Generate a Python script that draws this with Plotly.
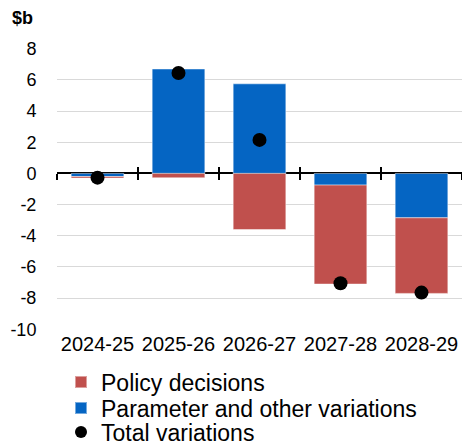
import plotly.graph_objects as go

years = ["2024-25", "2025-26", "2026-27", "2027-28", "2028-29"]
policy = [-0.1, -0.28, -3.6, -6.35, -4.85]
parameter = [-0.2, 6.7, 5.75, -0.75, -2.85]
total = [-0.27, 6.45, 2.15, -7.05, -7.65]
y_ticks = [8, 6, 4, 2, 0, -2, -4, -6, -8, -10]

ymin, ymax = -10, 8
zero_pos = (0 - ymin) / (ymax - ymin)

FONT = "Arial, Liberation Sans, sans-serif"
RED = "#C0504D"
BLUE = "#0565C3"
W, H = 462, 445

fig = go.Figure()
fig.add_trace(go.Bar(x=years, y=parameter, name="Parameter and other variations",
                     marker=dict(color=BLUE, line=dict(color="rgba(255,255,255,0.45)", width=1)),
                     legend="legend2"))
fig.add_trace(go.Bar(x=years, y=policy, name="Policy decisions",
                     marker=dict(color=RED, line=dict(color="rgba(255,255,255,0.45)", width=1)),
                     legend="legend"))
fig.add_trace(go.Scatter(x=years, y=total, name="Total variations", mode="markers",
                         marker=dict(color="black", size=14), legend="legend3"))
# invisible helpers for tick-mark axes on the zero line
for ax in ["x2", "x3"]:
    fig.add_trace(go.Scatter(x=years, y=total, xaxis=ax, yaxis="y", mode="markers",
                             marker=dict(opacity=0), showlegend=False, hoverinfo="skip"))

def leg(ycenter):
    return dict(orientation="v", xref="container", yref="container",
                x=61 / W, xanchor="left", y=1 - ycenter / H, yanchor="middle",
                font=dict(size=23), itemsizing="constant", bgcolor="rgba(0,0,0,0)")

fig.update_layout(
    width=W, height=H,
    margin=dict(l=57, r=0, t=48, b=115, autoexpand=False),
    paper_bgcolor="white", plot_bgcolor="white",
    barmode="relative", bargap=0.35,
    font=dict(family=FONT, color="black", size=18),
    showlegend=True,
    legend=leg(382), legend2=leg(408), legend3=leg(432),
    xaxis=dict(type="category", range=[-0.5, 4.5], showgrid=False, showline=False,
               ticks="", tickfont=dict(size=20), zeroline=False),
    xaxis2=dict(type="category", overlaying="x", anchor="free", position=zero_pos,
                range=[-0.5, 4.5], showticklabels=False, ticks="outside", ticklen=6,
                tickwidth=1.5, tickcolor="black", tickson="boundaries", showgrid=False,
                showline=False, zeroline=False),
    xaxis3=dict(type="category", overlaying="x", anchor="free", position=zero_pos,
                range=[-0.5, 4.5], showticklabels=False, ticks="inside", ticklen=6,
                tickwidth=1.5, tickcolor="black", tickson="boundaries", showgrid=False,
                showline=False, zeroline=False),
    yaxis=dict(range=[ymin - 0.05, ymax + 0.05], tickvals=y_ticks,
               ticktext=[str(v) for v in y_ticks], showgrid=True, gridcolor="#D9D9D9",
               gridwidth=1, zeroline=True, zerolinecolor="black", zerolinewidth=2,
               showline=False, ticks="outside", ticklen=16, tickcolor="rgba(0,0,0,0)",
               tickfont=dict(size=18)),
    annotations=[dict(text="<b>$b</b>", xref="paper", yref="paper", x=-0.116, y=1.105,
                      xanchor="left", yanchor="middle", showarrow=False,
                      font=dict(size=18, family=FONT))],
)

fig.write_html("out.html", config={"displayModeBar": False},
               post_script="document.body.style.margin='0';document.body.style.overflow='hidden';")
